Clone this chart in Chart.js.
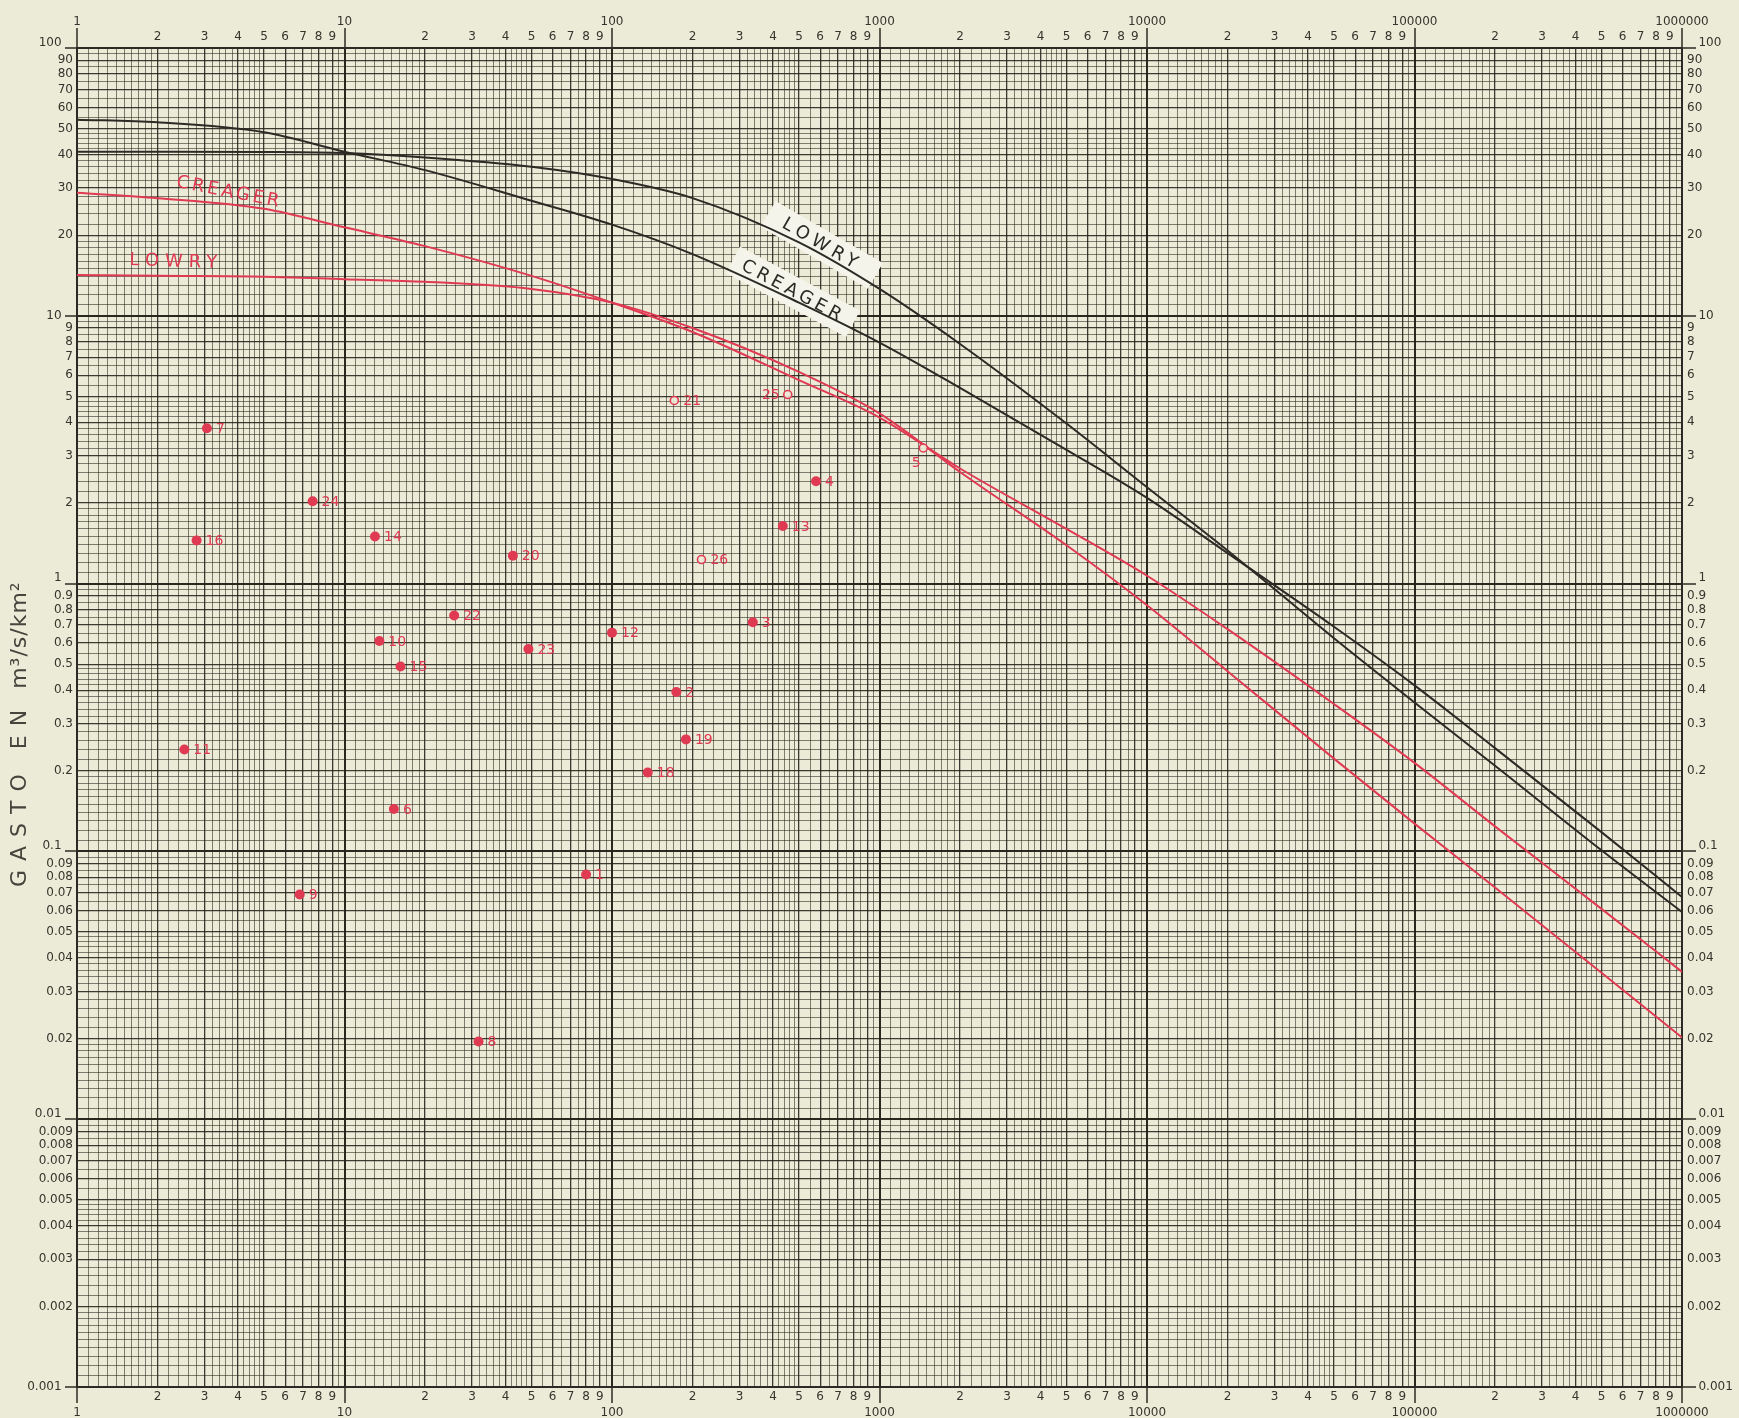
<!DOCTYPE html>
<html lang="es">
<head>
<meta charset="UTF-8" />
<title>Envolventes de gasto máximo</title>
<script src="https://cdn.jsdelivr.net/npm/chart.js"></script>
<style>
  html, body { margin: 0; padding: 0; background: #ecebd8; }
  canvas { display: block; }
</style>
</head>
<body>
<canvas id="chart" width="1739" height="1418"></canvas>
<script>
// Área de cuenca (km²) donde se leyeron las envolventes
const areas = [1, 2, 5, 10, 20, 50, 100, 200, 500, 1000, 2000, 5000, 10000, 20000, 50000, 100000, 200000, 500000, 1000000];

// Envolventes mundiales (negro), gasto en m³/s/km²
const lowryMundial   = [41.0, 41.0, 40.9, 40.5, 39.0, 36.0, 32.4, 27.5, 18.8, 12.6, 7.85, 3.96, 2.29, 1.33, 0.625, 0.36, 0.209, 0.101, 0.0594];
const creagerMundial = [54.0, 52.8, 48.5, 41.0, 35.0, 26.9, 21.9, 17.0, 11.2, 7.94, 5.38, 3.16, 2.09, 1.30, 0.69, 0.417, 0.243, 0.118, 0.0676];

// Envolventes regionales (rojo)
const creagerRegional = [28.8, 27.5, 25.1, 21.4, 18.2, 14.1, 11.2, 8.7, 5.75, 4.17, 2.69, 1.60, 1.07, 0.676, 0.355, 0.214, 0.124, 0.061, 0.0355];
const lowryRegional   = [14.2, 14.1, 14.0, 13.7, 13.4, 12.6, 11.2, 9.0, 6.17, 4.32, 2.61, 1.39, 0.83, 0.471, 0.222, 0.127, 0.0733, 0.0352, 0.0202];

// Estaciones con registro (punto lleno)
const estaciones = ['7', '16', '11', '24', '14', '10', '15', '6', '9', '22', '20', '23', '8', '1', '12', '18', '2', '19', '3', '13', '4'];
const estArea    = [3.06, 2.8, 2.52, 7.6, 13.0, 13.5, 16.2, 15.3, 6.8, 25.7, 42.6, 48.7, 31.7, 80, 100, 136, 174, 189, 336, 435, 579];
const estGasto   = [3.8, 1.45, 0.24, 2.03, 1.5, 0.61, 0.49, 0.144, 0.069, 0.76, 1.27, 0.57, 0.0195, 0.082, 0.656, 0.197, 0.394, 0.262, 0.717, 1.64, 2.41];

// Estaciones de punto hueco
const estHuecas   = ['21', '26', '25', '5'];
const huecaArea   = [171, 216, 454, 1458];
const huecaGasto  = [4.83, 1.23, 5.08, 3.21];

// Subdivisiones del papel logarítmico dentro de cada ciclo: [desde, hasta, paso]
const divisiones = [[1, 2, 0.1], [2, 5, 0.2], [5, 10, 0.5]];

const ROJO = '#e03a53';
const NEGRO = '#2b2a24';
const TINTA = '#36342c';

function marcasLog(dMin, dMax) {
  const v = [];
  for (let d = dMin; d < dMax; d++) {
    divisiones.forEach(([a, b, paso]) => {
      for (let m = a; m < b - 1e-9; m += paso) {
        v.push(+((Math.round(m * 100) / 100) * 10 ** d).toPrecision(6));
      }
    });
  }
  v.push(10 ** dMax);
  return v;
}

function partes(v) {
  const d = Math.floor(Math.log10(v) + 1e-9);
  const m = Math.round(v / 10 ** d * 100) / 100;
  return [m, d];
}

const marcasX = marcasLog(0, 6);
const marcasY = marcasLog(-3, 2);

function colorMalla(ctx) {
  const [m] = partes(ctx.tick.value);
  if (m === 1) return 'rgba(34,32,24,0.97)';
  if (Number.isInteger(m)) return 'rgba(34,32,24,0.88)';
  return 'rgba(34,32,24,0.62)';
}
function anchoMalla(ctx) {
  const [m] = partes(ctx.tick.value);
  if (m === 1) return 2;
  if (Number.isInteger(m)) return 1.3;
  return 0.9;
}
function colorGuion(ctx) {
  return partes(ctx.tick.value)[0] === 1 ? 'rgba(34,32,24,0.95)' : 'rgba(0,0,0,0)';
}

function rotuloX(v, arriba) {
  const [m, d] = partes(v);
  if (!Number.isInteger(m)) return '';
  if (m === 1) {
    const t = String(10 ** d);
    return arriba ? [t, ''] : ['', t];
  }
  return arriba ? ['', String(m)] : [String(m), ''];
}

function rotuloY(v, izquierda) {
  const [m, d] = partes(v);
  if (!Number.isInteger(m)) return '';
  const txt = d >= 0 ? String(m * 10 ** d) : (m * 10 ** d).toFixed(-d);
  if (m !== 1) return txt;
  const t = izquierda ? txt + '   ' : '   ' + txt;
  return (d === 1 || d === -3) ? t : [t, ''];
}

function ejeX(posicion) {
  const arriba = posicion === 'top';
  return {
    type: 'logarithmic',
    position: posicion,
    min: 1,
    max: 1000000,
    afterBuildTicks: s => { s.ticks = marcasX.map(v => ({ value: v })); },
    afterFit: s => { s.height = arriba ? 48 : 31; },
    grid: {
      drawOnChartArea: !arriba,
      color: colorMalla,
      lineWidth: anchoMalla,
      tickColor: colorGuion,
      tickWidth: 1.5,
      tickLength: arriba ? 20 : 16
    },
    border: { color: NEGRO, width: 2 },
    ticks: {
      autoSkip: false,
      maxRotation: 0,
      minRotation: 0,
      padding: arriba ? -16.8 : -13.8,
      color: TINTA,
      font: { family: 'DejaVu Sans', size: 12, lineHeight: 1.3 },
      callback: v => rotuloX(v, arriba)
    }
  };
}

function ejeY(posicion) {
  const izquierda = posicion === 'left';
  return {
    type: 'logarithmic',
    position: posicion,
    min: 0.001,
    max: 100,
    afterBuildTicks: s => { s.ticks = marcasY.map(v => ({ value: v })); },
    afterFit: s => { s.width = izquierda ? 77 : 57; },
    grid: {
      drawOnChartArea: izquierda,
      color: colorMalla,
      lineWidth: anchoMalla,
      tickColor: colorGuion,
      tickWidth: 1.5,
      tickLength: izquierda ? 12 : 14
    },
    border: { color: NEGRO, width: 2 },
    ticks: {
      autoSkip: false,
      padding: izquierda ? -8 : -9,
      color: TINTA,
      font: { family: 'DejaVu Sans', size: 12, lineHeight: 0.9 },
      callback: v => rotuloY(v, izquierda)
    }
  };
}

function curva(valores, color) {
  return {
    data: areas.map((a, i) => ({ x: a, y: valores[i] })),
    showLine: true,
    borderColor: color,
    borderWidth: 2,
    pointRadius: 0,
    cubicInterpolationMode: 'monotone',
    fill: false
  };
}

// Nombres de las envolventes, anclados en coordenadas de la gráfica
const nombresCurvas = [
  { texto: 'LOWRY', x: 608, y: 18.4, angulo: 30, color: NEGRO, rotulo: 124, espacio: 5 },
  { texto: 'CREAGER', x: 475, y: 12.3, angulo: 28, color: NEGRO, rotulo: 136, espacio: 4 },
  { texto: 'CREAGER', x: 3.71, y: 28.9, angulo: 11, color: ROJO, espacio: 3 },
  { texto: 'LOWRY', x: 2.35, y: 15.9, angulo: 2, color: ROJO, espacio: 6 }
];

const papel = {
  id: 'papel',
  beforeDraw(chart) {
    const ctx = chart.ctx;
    ctx.save();
    ctx.fillStyle = '#ecebd8';
    ctx.fillRect(0, 0, chart.width, chart.height);
    ctx.restore();
  },
  beforeDatasetsDraw(chart) {
    const ctx = chart.ctx;
    const { x, y } = chart.scales;
    nombresCurvas.filter(n => n.rotulo).forEach(n => {
      ctx.save();
      ctx.translate(x.getPixelForValue(n.x), y.getPixelForValue(n.y));
      ctx.rotate(n.angulo * Math.PI / 180);
      ctx.fillStyle = '#f5f4ea';
      ctx.fillRect(-n.rotulo / 2, -15, n.rotulo, 30);
      ctx.restore();
    });
  },
  afterDatasetsDraw(chart) {
    const ctx = chart.ctx;
    const { x, y } = chart.scales;
    ctx.save();
    ctx.textBaseline = 'middle';

    // nombres de las curvas
    nombresCurvas.forEach(n => {
      ctx.save();
      ctx.translate(x.getPixelForValue(n.x), y.getPixelForValue(n.y));
      ctx.rotate(n.angulo * Math.PI / 180);
      ctx.font = '18px "DejaVu Sans"';
      ctx.letterSpacing = n.espacio + 'px';
      ctx.fillStyle = n.color;
      ctx.textAlign = 'center';
      ctx.fillText(n.texto, 0, 0);
      ctx.restore();
    });

    // número de cada estación
    ctx.font = '14px "DejaVu Sans"';
    ctx.fillStyle = ROJO;
    chart.data.datasets.forEach((ds, i) => {
      if (!ds.nombres) return;
      chart.getDatasetMeta(i).data.forEach((pt, j) => {
        const n = ds.nombres[j];
        let dx = 9, dy = 1;
        ctx.textAlign = 'left';
        if (n === '25') { dx = -8; ctx.textAlign = 'right'; }
        if (n === '5') { dx = -7; dy = 15; ctx.textAlign = 'center'; }
        ctx.fillText(n, pt.x + dx, pt.y + dy);
      });
    });

    // título del eje vertical
    ctx.translate(20, 887);
    ctx.rotate(-Math.PI / 2);
    ctx.fillStyle = '#46453d';
    ctx.textAlign = 'left';
    ctx.font = '22px "DejaVu Sans"';
    ctx.letterSpacing = '9px';
    ctx.fillText('GASTO EN', 0, 0);
    const w = ctx.measureText('GASTO EN').width;
    ctx.letterSpacing = '1px';
    ctx.fillText('m³/s/km²', w + 12, 0);
    ctx.restore();
  }
};

new Chart(document.getElementById('chart'), {
  type: 'scatter',
  data: {
    datasets: [
      {
        data: estArea.map((a, i) => ({ x: a, y: estGasto[i] })),
        nombres: estaciones,
        pointRadius: 5,
        pointBackgroundColor: ROJO,
        pointBorderColor: ROJO,
        pointBorderWidth: 0
      },
      {
        data: huecaArea.map((a, i) => ({ x: a, y: huecaGasto[i] })),
        nombres: estHuecas,
        pointRadius: 4,
        pointBackgroundColor: 'rgba(236,235,216,0.9)',
        pointBorderColor: ROJO,
        pointBorderWidth: 1.6
      },
      curva(creagerRegional, ROJO),
      curva(lowryRegional, ROJO),
      curva(lowryMundial, NEGRO),
      curva(creagerMundial, NEGRO)
    ]
  },
  options: {
    responsive: false,
    animation: false,
    devicePixelRatio: 1,
    layout: { padding: 0 },
    plugins: {
      legend: { display: false },
      tooltip: { enabled: false }
    },
    scales: {
      x: ejeX('bottom'),
      x2: ejeX('top'),
      y: ejeY('left'),
      y2: ejeY('right')
    }
  },
  plugins: [papel]
});
</script>
</body>
</html>
